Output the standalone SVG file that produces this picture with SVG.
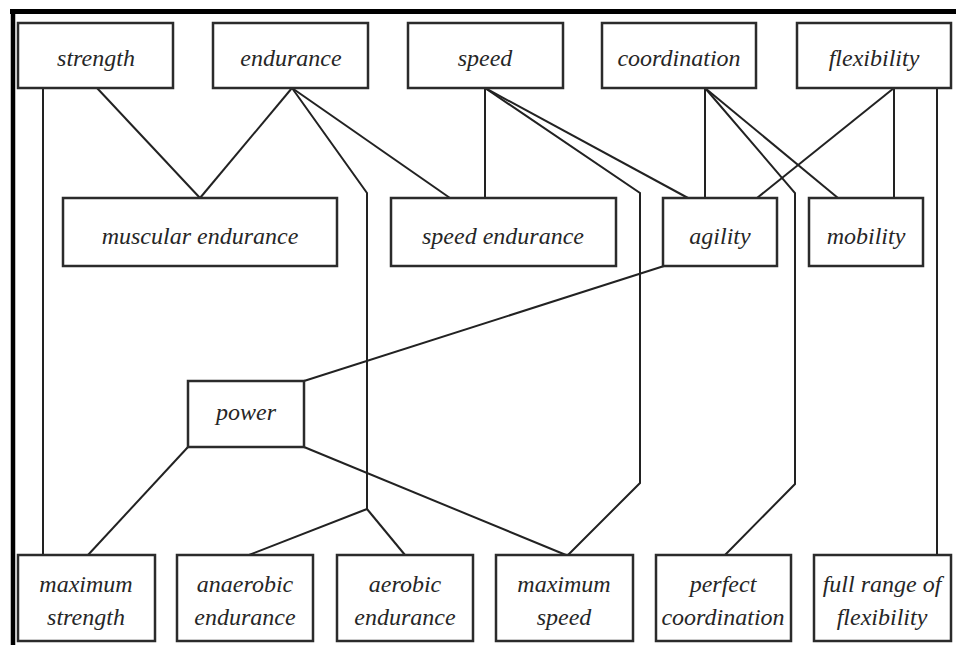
<svg xmlns="http://www.w3.org/2000/svg" width="956" height="645" viewBox="0 0 956 645">
<style>
.box{fill:#fff;stroke:#2b2b2b;stroke-width:2.5}
.t{font-family:"Liberation Serif","Times New Roman",serif;font-style:italic;font-size:24px;fill:#262626;text-anchor:middle}
.c{fill:none;stroke:#222;stroke-width:2;stroke-linejoin:miter}
.frame{stroke:#000;fill:none}
</style>
<rect width="956" height="645" fill="#fff"/>
<line class="frame" x1="10" y1="11.5" x2="956" y2="11.5" stroke-width="5"/>
<line class="frame" x1="13" y1="9" x2="13" y2="645" stroke-width="4.5"/>

<g id="connectors">
<line class="c" x1="43" y1="88" x2="43" y2="555"/>
<line class="c" x1="97" y1="88" x2="200" y2="198"/>
<line class="c" x1="292" y1="88" x2="200" y2="198"/>
<polyline class="c" points="292,88 367,193 367,509"/>
<line class="c" x1="367" y1="509" x2="249" y2="555"/>
<line class="c" x1="367" y1="509" x2="405" y2="555"/>
<line class="c" x1="292" y1="88" x2="450" y2="198"/>
<line class="c" x1="485" y1="88" x2="485" y2="198"/>
<polyline class="c" points="485,88 640,193 640,483 568,555"/>
<line class="c" x1="485" y1="88" x2="688" y2="198"/>
<line class="c" x1="705" y1="88" x2="705" y2="198"/>
<polyline class="c" points="705,88 795,193 795,484 725,555"/>
<line class="c" x1="705" y1="88" x2="838" y2="198"/>
<line class="c" x1="894" y1="88" x2="757" y2="198"/>
<line class="c" x1="894" y1="88" x2="894" y2="198"/>
<line class="c" x1="937" y1="88" x2="937" y2="555"/>
<line class="c" x1="664" y1="266" x2="304" y2="381"/>
<line class="c" x1="188" y1="447" x2="88" y2="555"/>
<line class="c" x1="304" y1="447" x2="566" y2="555"/>
</g>

<g id="strength"><rect class="box" x="18" y="23" width="155" height="65"/><text class="t" x="96" y="66">strength</text></g>
<g id="endurance"><rect class="box" x="213" y="23" width="155" height="65"/><text class="t" x="291" y="66">endurance</text></g>
<g id="speed"><rect class="box" x="408" y="23" width="155" height="65"/><text class="t" x="485" y="66">speed</text></g>
<g id="coordination"><rect class="box" x="602" y="23" width="154" height="65"/><text class="t" x="679" y="66">coordination</text></g>
<g id="flexibility"><rect class="box" x="797" y="23" width="154" height="65"/><text class="t" x="874" y="66">flexibility</text></g>

<g id="muscular-endurance"><rect class="box" x="63" y="198" width="274" height="68"/><text class="t" x="200" y="244">muscular endurance</text></g>
<g id="speed-endurance"><rect class="box" x="391" y="198" width="225" height="68"/><text class="t" x="503" y="244">speed endurance</text></g>
<g id="agility"><rect class="box" x="663" y="198" width="114" height="68"/><text class="t" x="720" y="244">agility</text></g>
<g id="mobility"><rect class="box" x="809" y="198" width="114" height="68"/><text class="t" x="866" y="244">mobility</text></g>

<g id="power"><rect class="box" x="188" y="381" width="116" height="66"/><text class="t" x="246" y="420">power</text></g>

<g id="maximum-strength"><rect class="box" x="18" y="555" width="137" height="86"/><text class="t" x="86" y="592">maximum</text><text class="t" x="86" y="625">strength</text></g>
<g id="anaerobic-endurance"><rect class="box" x="177" y="555" width="136" height="86"/><text class="t" x="245" y="592">anaerobic</text><text class="t" x="245" y="625">endurance</text></g>
<g id="aerobic-endurance"><rect class="box" x="337" y="555" width="136" height="86"/><text class="t" x="405" y="592">aerobic</text><text class="t" x="405" y="625">endurance</text></g>
<g id="maximum-speed"><rect class="box" x="496" y="555" width="137" height="86"/><text class="t" x="564" y="592">maximum</text><text class="t" x="564" y="625">speed</text></g>
<g id="perfect-coordination"><rect class="box" x="656" y="555" width="135" height="86"/><text class="t" x="723" y="592">perfect</text><text class="t" x="723" y="625">coordination</text></g>
<g id="full-range-of-flexibility"><rect class="box" x="814" y="555" width="137" height="86"/><text class="t" x="882" y="592">full range of</text><text class="t" x="882" y="625">flexibility</text></g>
</svg>
